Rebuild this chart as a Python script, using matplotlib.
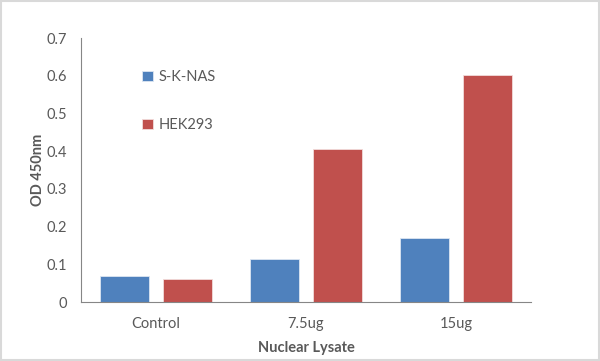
import numpy as np
import matplotlib
matplotlib.use("Agg")
import matplotlib.pyplot as plt
from matplotlib.patches import Rectangle

categories = ['Control', '7.5ug', '15ug']
sknas = [0.069, 0.115, 0.170]
hek293 = [0.062, 0.405, 0.601]
yticks = [0, 0.1, 0.2, 0.3, 0.4, 0.5, 0.6, 0.7]

plt.rcParams['font.family'] = ['Lato', 'DejaVu Sans']
txt = '#595959'

fig = plt.figure(figsize=(6, 3.61), dpi=100)
ax = fig.add_axes([0.135, 0.1634, 0.75, 0.7313])

x = np.arange(len(categories))
w = 0.333
ax.bar(x - 0.21, sknas, w, color='#4F81BD', edgecolor='#DCE6F2', linewidth=0.6, label='S-K-NAS')
ax.bar(x + 0.21, hek293, w, color='#C0504D', edgecolor='#F2DCDB', linewidth=0.6, label='HEK293')

ax.set_xlim(-0.5, 2.5)
ax.set_ylim(0, 0.7)
ax.set_yticks(yticks)
ax.set_yticklabels([f'{t:g}' for t in yticks])
ax.set_xticks(x)
ax.set_xticklabels(categories)
ax.tick_params(length=0, labelsize=10.5, colors=txt)
ax.tick_params(axis='x', pad=11)
ax.tick_params(axis='y', pad=10)

for s in ['top', 'right']:
    ax.spines[s].set_visible(False)
ax.spines['left'].set_color('#868686')
ax.spines['bottom'].set_color('#868686')

ax.set_ylabel('OD 450nm', fontsize=10.5, fontweight='bold', color=txt, labelpad=1)
ax.set_xlabel('Nuclear Lysate', fontsize=10.5, fontweight='bold', color=txt, labelpad=7)

leg = ax.legend(loc='upper left', bbox_to_anchor=(0.225, 0.825), bbox_transform=fig.transFigure,
                frameon=False, fontsize=10.5, handlelength=0.7, handleheight=0.7,
                handletextpad=0.4, labelspacing=2.3, borderpad=0)
for t in leg.get_texts():
    t.set_color(txt)

fig.patches.append(Rectangle((0.002, 0.003), 0.996, 0.994, transform=fig.transFigure,
                             fill=False, edgecolor='#D9D9D9', linewidth=1.5))

fig.savefig('out.png', dpi=100)
